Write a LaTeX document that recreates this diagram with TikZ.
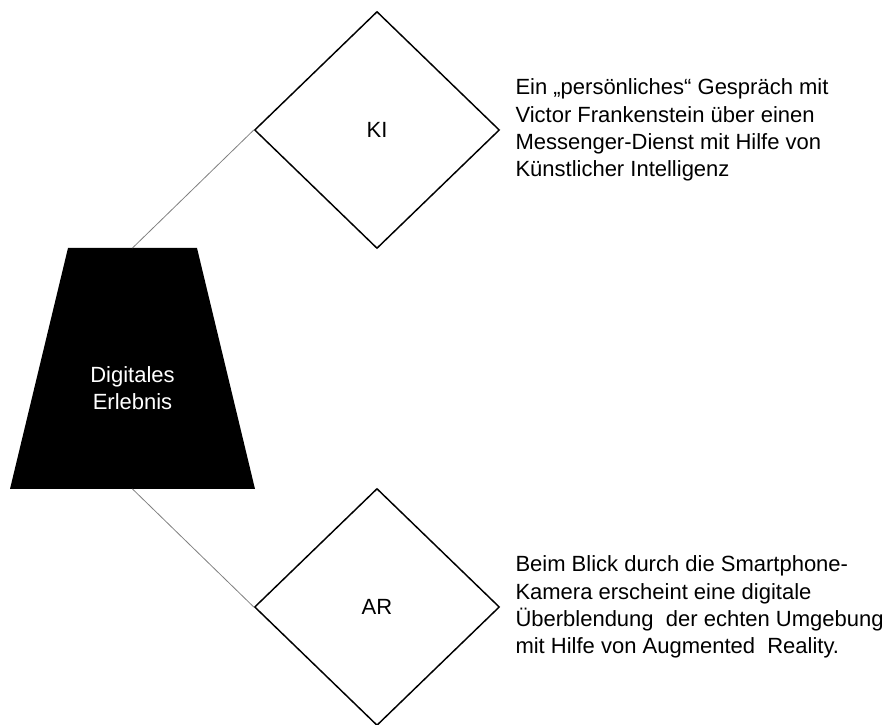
\documentclass[tikz,border=0pt]{standalone}
\usepackage{fontspec}
\setmainfont{Liberation Sans}
\usetikzlibrary{shapes.geometric,positioning}

\tikzset{
  technik/.style={diamond, draw=black, line width=1.1pt, minimum width=183.75pt,
    minimum height=177.75pt, inner sep=0pt, font=\fontsize{16.5}{20.5}\selectfont},
  info/.style={anchor=west, align=left, inner sep=0pt, font=\fontsize{16.5}{20.5}\selectfont},
}

\begin{document}
\begin{tikzpicture}[x=0.75pt, y=0.75pt]
  \useasboundingbox (0,0) rectangle (894,725);
  % black trapezium on the left
  \fill[black] (10,236) -- (255,236) -- (197,477) -- (68,477) -- cycle;
  \coordinate (erlTop) at (132.5,477);
  \coordinate (erlBottom) at (132.5,236);
  \node[align=center, text=white, inner sep=0pt, font=\fontsize{16.5}{20.5}\selectfont]
    (erl) at (132.5,337) {Digitales\\Erlebnis};
  \draw
    (377,595) node[technik] (ki){KI}
    (377,118) node[technik] (ar){AR};
  \node[info, right=11.25pt of ki.east] (kiText)
    {Ein „persönliches“ Gespräch mit\\Victor Frankenstein über einen\\Messenger-Dienst mit Hilfe von\\Künstlicher Intelligenz};
  \node[info, right=11.25pt of ar.east] (arText)
    {Beim Blick durch die Smartphone-\\Kamera erscheint eine digitale\\Überblendung\ \ der echten Umgebung\\mit Hilfe von Augmented\ \ Reality.};
  \begin{scope}[gray, line width=0.6pt]
    \draw (erlTop) to (ki.west);
    \draw (erlBottom) to (ar.west);
  \end{scope}
\end{tikzpicture}
\end{document}
